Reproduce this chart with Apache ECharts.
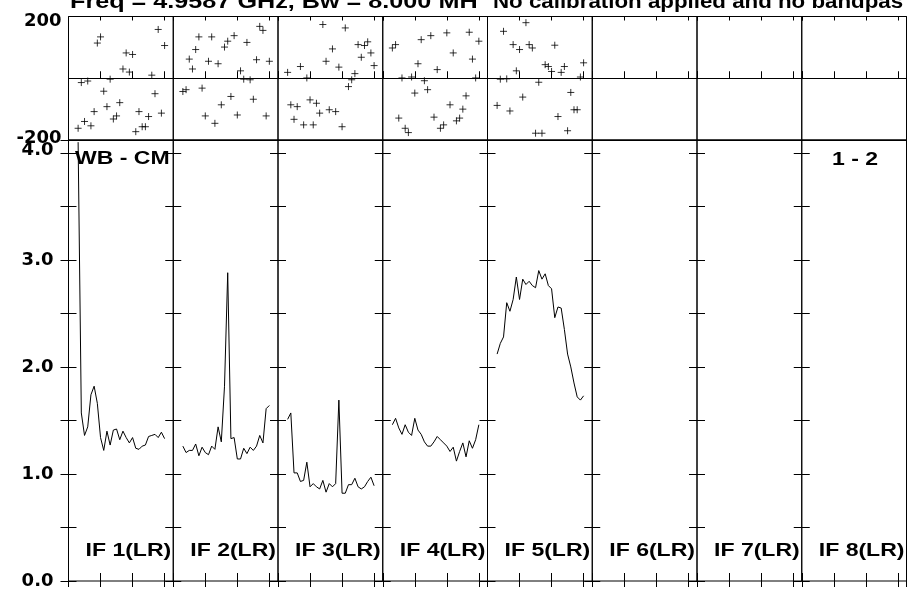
<!DOCTYPE html>
<html>
<head>
<meta charset="utf-8">
<script src="https://cdn.jsdelivr.net/npm/echarts@6/dist/echarts.min.js"></script>
<style>html,body{margin:0;padding:0;background:#fff}#c{width:907px;height:591px}</style>
</head>
<body>
<div id="c"></div>
<script>
// ---- data ----
const channels = [3,4,5,6,7,8,9,10,11,12,13,14,15,16,17,18,19,20,21,22,23,24,25,26,27,28,29,30];
const ifLabels = ['IF 1(LR)','IF 2(LR)','IF 3(LR)','IF 4(LR)','IF 5(LR)','IF 6(LR)','IF 7(LR)','IF 8(LR)'];
const amp1 = [4.10,1.57,1.36,1.44,1.74,1.82,1.66,1.34,1.22,1.40,1.27,1.41,1.42,1.32,1.40,1.34,1.29,1.34,1.24,1.23,1.26,1.27,1.35,1.36,1.37,1.34,1.39,1.33];
const amp2 = [1.26,1.20,1.22,1.22,1.28,1.17,1.25,1.20,1.18,1.26,1.23,1.44,1.30,1.82,2.88,1.33,1.34,1.14,1.14,1.24,1.19,1.25,1.22,1.26,1.36,1.29,1.61,1.64];
const amp3 = [1.51,1.57,1.01,1.01,0.93,0.94,1.11,0.88,0.91,0.88,0.86,0.94,0.83,0.91,0.88,0.91,1.69,0.82,0.82,0.90,0.90,0.96,0.88,0.86,0.88,0.93,0.97,0.89];
const amp4 = [1.46,1.52,1.43,1.37,1.46,1.39,1.36,1.52,1.41,1.37,1.30,1.26,1.26,1.30,1.35,1.32,1.29,1.26,1.21,1.25,1.12,1.21,1.29,1.16,1.31,1.24,1.32,1.46];
const amp5 = [2.12,2.22,2.28,2.60,2.52,2.63,2.84,2.63,2.82,2.77,2.80,2.76,2.74,2.90,2.82,2.87,2.76,2.73,2.46,2.56,2.55,2.35,2.12,2.00,1.85,1.72,1.69,1.73];
const ph1 = [-162,-14,-140,-9,-154,-108,114,134,-42,-92,-3,-132,-122,-79,30,82,20,77,-173,-108,-157,-157,-124,10,-50,158,-113,106];
const ph2 = [-43,-37,62,30,93,134,-32,-122,55,134,-146,47,-86,101,120,-59,138,-119,24,-3,116,-5,-68,60,168,155,-122,55];
const ph3 = [19,-86,-133,-92,38,-151,1,-70,-151,-81,-113,174,55,-102,95,-108,36,-157,163,-27,-5,15,109,68,106,118,82,41];
const ph4 = [98,109,-129,1,-162,-176,4,-48,47,125,-8,-37,138,-126,28,-162,-151,147,-86,82,-138,-129,-100,-57,149,62,1,120];
const ph5 = [-88,-3,152,-2,-106,109,24,93,-61,180,109,98,-178,-13,-178,44,38,22,107,-124,19,38,-170,-46,-102,-102,4,50];
const amps = [amp1, amp2, amp3, amp4, amp5];
const phases = [ph1, ph2, ph3, ph4, ph5];
const titleLeft = 'Freq = 4.9587 GHz, Bw = 8.000 MH';
const titleRight = 'No calibration applied and no bandpas';

// ---- layout ----
const L0 = 68.5, PW = 104.75;
const PH_TOP = 16.5, PH_H = 123.5;
const AM_TOP = 140, AM_H = 441;
const AXFONT = {fontFamily: 'DejaVu Sans', fontWeight: 'bold', fontSize: 18, color: '#000'};

const grid = [], xAxis = [], yAxis = [], series = [], graphic = [];
const black = {color: '#000', width: 1};

for (let i = 0; i < 8; i++) {
  const left = L0 + i * PW;
  const gp = grid.length;
  grid.push({left: left, top: PH_TOP, width: PW, height: PH_H, show: true, borderColor: '#000', borderWidth: 1, backgroundColor: 'transparent'});
  const gaB = grid.length;
  grid.push({left: left, top: AM_TOP, width: PW, height: AM_H, show: true, borderColor: '#000', borderWidth: 1, backgroundColor: 'transparent'});

  const mkX = (g, pos, len) => ({
    gridIndex: g, type: 'value', position: pos, min: 0, max: 32.7, interval: 10,
    axisLine: {show: false}, axisLabel: {show: false}, splitLine: {show: false},
    axisTick: {show: true, inside: true, length: len, lineStyle: black}
  });
  const xpB = xAxis.length; xAxis.push(mkX(gp, 'bottom', 7));
  xAxis.push(mkX(gp, 'top', 4));
  const xaB = xAxis.length; xAxis.push(mkX(gaB, 'bottom', 8));
  xAxis.push(mkX(gaB, 'top', 6));

  const ypI = yAxis.length;
  yAxis.push({
    gridIndex: gp, type: 'value', min: -200, max: 200, interval: 200,
    axisLine: {show: false}, axisTick: {show: false},
    splitLine: {show: true, lineStyle: black},
    axisLabel: {
      show: i === 0, margin: 7, ...AXFONT,
      formatter: v => v === 200 ? '{t|200}' : (v === -200 ? '{b|-200}' : ''),
      rich: {t: {...AXFONT, padding: [9, 0, 0, 0]}, b: {...AXFONT, padding: [0, 0, 3, 0]}}
    }
  });
  const yaI = yAxis.length;
  const mkY = (pos, lab) => ({
    gridIndex: gaB, type: 'value', position: pos, min: 0, max: 4.12, interval: 0.5,
    axisLine: {show: false}, splitLine: {show: false},
    axisTick: {show: true, inside: true, length: 8, lineStyle: black},
    axisLabel: {
      show: lab, margin: 15, ...AXFONT,
      formatter: v => (Math.abs(v - Math.round(v)) < 1e-9 && v <= 4) ? (v === 4 ? '{u|4.0}' : v.toFixed(1)) : '',
      rich: {u: {...AXFONT, padding: [0, 0, 6, 0]}}
    }
  });
  yAxis.push(mkY('left', i === 0));
  yAxis.push(mkY('right', false));

  if (i < 5) {
    series.push({
      type: 'line', xAxisIndex: xaB, yAxisIndex: yaI, showSymbol: false, symbol: 'none',
      lineStyle: {color: '#000', width: 1}, clip: true, animation: false,
      data: channels.map((c, k) => [c, amps[i][k]])
    });
    series.push({
      type: 'scatter', xAxisIndex: xpB, yAxisIndex: ypI, animation: false,
      symbol: 'path://M0,5L10,5M5,0L5,10', symbolSize: 7,
      itemStyle: {color: 'transparent', borderColor: '#000', borderWidth: 1},
      data: channels.map((c, k) => [c, phases[i][k]])
    });
  }

  graphic.push({
    type: 'text', x: left + PW - 2, y: 551, scaleX: 1.28, z: 100,
    style: {text: ifLabels[i], font: 'bold 18px "Liberation Sans"', fill: '#000', align: 'right', verticalAlign: 'middle'}
  });
}

graphic.push({type: 'text', x: 70, y: 2, scaleX: 1.26, z: 100,
  style: {text: titleLeft, font: 'bold 20px "Liberation Sans"', fill: '#000', align: 'left', verticalAlign: 'middle'}});
graphic.push({type: 'text', x: 493, y: 2, scaleX: 1.115, z: 100,
  style: {text: titleRight, font: 'bold 20px "Liberation Sans"', fill: '#000', align: 'left', verticalAlign: 'middle'}});
graphic.push({type: 'text', x: 75, y: 159, scaleX: 1.28, z: 100,
  style: {text: 'WB - CM', font: 'bold 18px "Liberation Sans"', fill: '#000', align: 'left', verticalAlign: 'middle'}});
graphic.push({type: 'text', x: 832, y: 160, scaleX: 1.28, z: 100,
  style: {text: '1 - 2', font: 'bold 18px "Liberation Sans"', fill: '#000', align: 'left', verticalAlign: 'middle'}});

const chart = echarts.init(document.getElementById('c'), null, {renderer: 'canvas'});
chart.setOption({
  animation: false,
  backgroundColor: '#fff',
  grid: grid, xAxis: xAxis, yAxis: yAxis, series: series, graphic: graphic
});
</script>
</body>
</html>
